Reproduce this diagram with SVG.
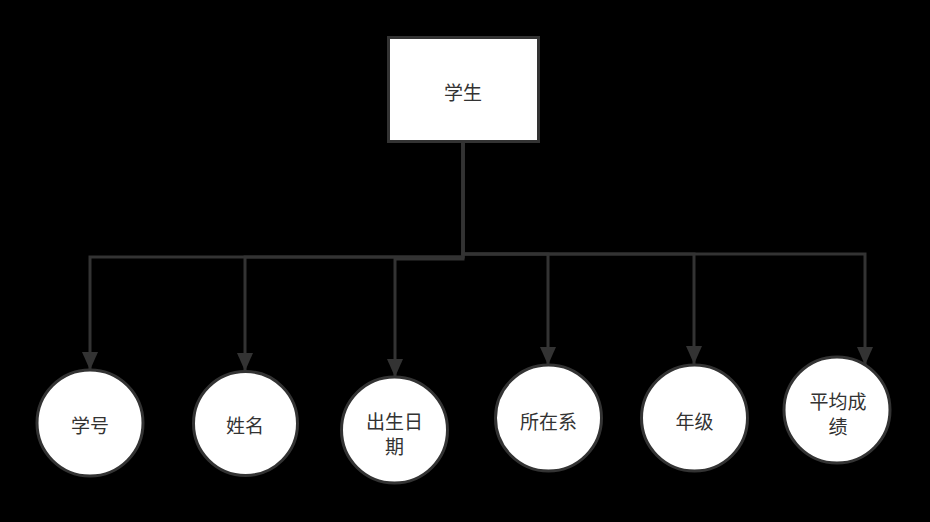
<svg xmlns="http://www.w3.org/2000/svg" width="930" height="522" viewBox="0 0 930 522">
<style>
.node{fill:#ffffff;stroke:#333333;stroke-width:3}
.edge{fill:none;stroke:#333333;stroke-width:3}
.lbl{font-family:"Noto Sans CJK SC","Noto Sans",sans-serif;font-size:19px;fill:#333333;text-anchor:middle;dominant-baseline:central}
</style>
<defs>
<marker id="arr" markerUnits="userSpaceOnUse" markerWidth="18" markerHeight="18" viewBox="0 0 18 18" refX="18" refY="9" orient="auto">
<path d="M0,1 L18,9 L0,17 Z" fill="#333333"/>
</marker>
</defs>
<rect width="930" height="522" fill="#000000"/>
<g id="connectors">
<path class="edge" marker-end="url(#arr)" d="M463,142 V257 H90 V370"/>
<path class="edge" marker-end="url(#arr)" d="M463,142 V257 H245 V371"/>
<path class="edge" marker-end="url(#arr)" d="M463,142 V259 H395 V377"/>
<path class="edge" marker-end="url(#arr)" d="M463,142 V254 H548 V365"/>
<path class="edge" marker-end="url(#arr)" d="M463,142 V254 H694 V364"/>
<path class="edge" marker-end="url(#arr)" d="M463,142 V254 H865 V365"/>
</g>
<g id="student">
<rect class="node" x="388.5" y="37.5" width="150" height="104"/>
<text class="lbl" x="463" y="91">学生</text>
</g>
<g id="xuehao">
<circle class="node" cx="90" cy="423" r="53"/>
<text class="lbl" x="90" y="424">学号</text>
</g>
<g id="xingming">
<circle class="node" cx="245.5" cy="423.5" r="52"/>
<text class="lbl" x="245" y="424">姓名</text>
</g>
<g id="chushengriqi">
<circle class="node" cx="394.5" cy="430" r="53"/>
<text class="lbl" x="394.5" y="420">出生日</text>
<text class="lbl" x="394.5" y="445">期</text>
</g>
<g id="suozaixi">
<circle class="node" cx="548.5" cy="418" r="53"/>
<text class="lbl" x="548.5" y="420">所在系</text>
</g>
<g id="nianji">
<circle class="node" cx="694.5" cy="418" r="53"/>
<text class="lbl" x="694.5" y="420">年级</text>
</g>
<g id="pingjunchengji">
<circle class="node" cx="837" cy="410" r="53"/>
<text class="lbl" x="838" y="400">平均成</text>
<text class="lbl" x="838" y="425">绩</text>
</g>
</svg>
